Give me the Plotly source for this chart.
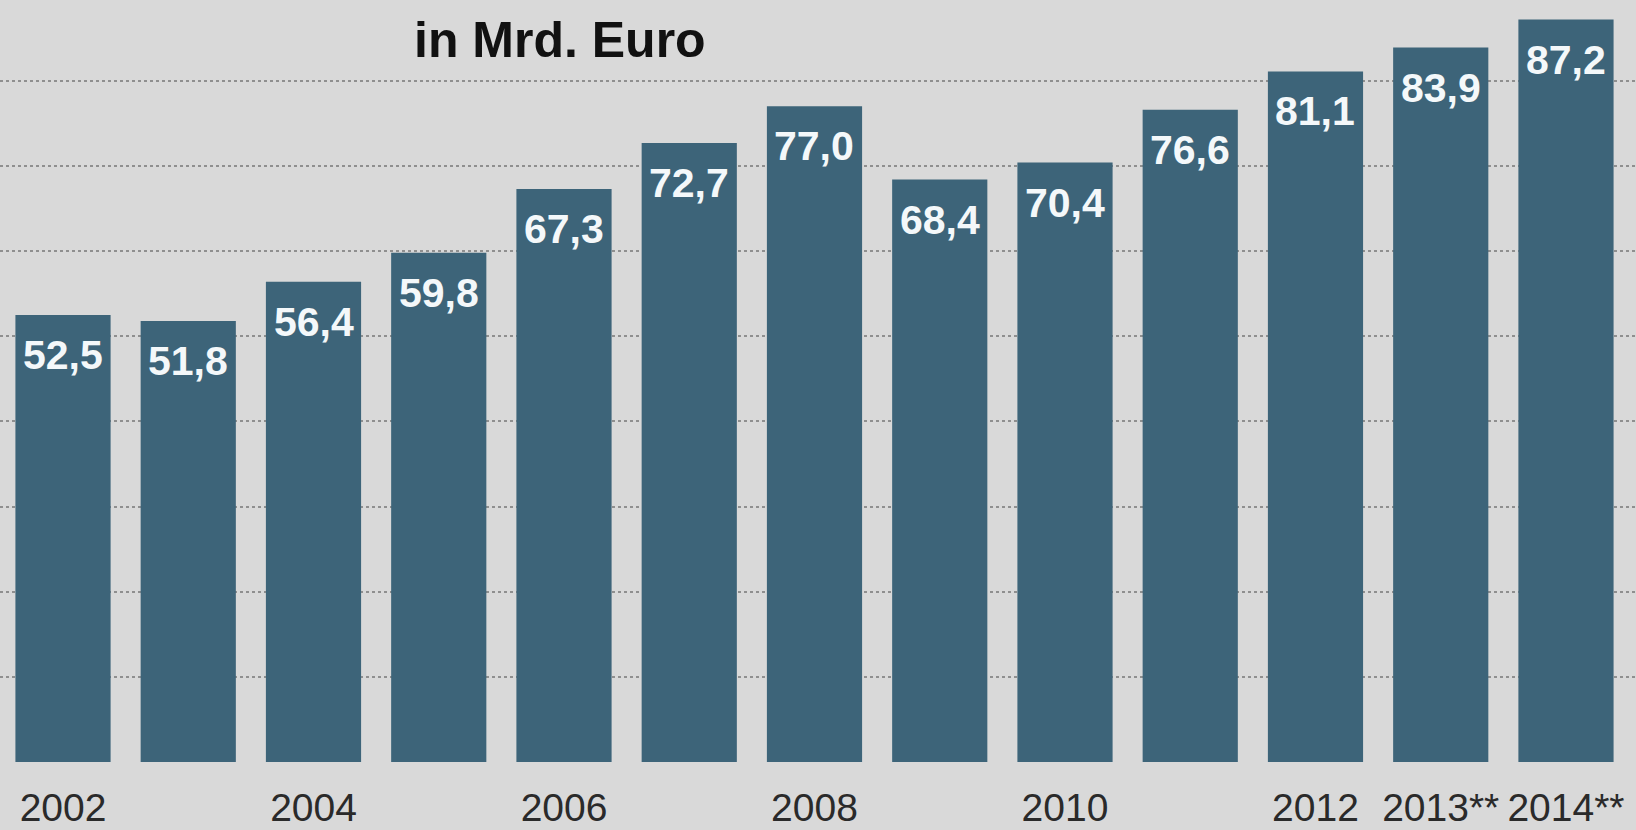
import plotly.graph_objects as go

years = ["2002", "2003", "2004", "2005", "2006", "2007", "2008",
         "2009", "2010", "2011", "2012", "2013**", "2014**"]
values = [52.5, 51.8, 56.4, 59.8, 67.3, 72.7, 77.0, 68.4, 70.4, 76.6, 81.1, 83.9, 87.2]
value_labels = ["52,5", "51,8", "56,4", "59,8", "67,3", "72,7", "77,0",
                "68,4", "70,4", "76,6", "81,1", "83,9", "87,2"]
tick_labels = ["2002", "", "2004", "", "2006", "", "2008",
               "", "2010", "", "2012", "2013**", "2014**"]
title_text = "in Mrd. Euro"

BG = "#d9d9d9"
BAR = "#3d6479"
FONT = "Liberation Sans, Arial, sans-serif"

fig = go.Figure()
fig.add_trace(go.Bar(
    x=years, y=values,
    marker=dict(color=BAR, line=dict(width=0)),
    hoverinfo="skip",
))

for i, (v, lab) in enumerate(zip(values, value_labels)):
    fig.add_annotation(
        x=i, y=v, text=lab, showarrow=False,
        xanchor="center", yanchor="middle", yshift=-40,
        font=dict(family=FONT, size=41, color="#f4f8fa", weight="bold"),
    )

fig.add_annotation(
    xref="paper", yref="paper", x=0.342, y=0.948,
    text=title_text, showarrow=False,
    xanchor="center", yanchor="middle",
    font=dict(family=FONT, size=50, color="#111111", weight="bold"),
)

fig.update_layout(
    width=1636, height=830,
    margin=dict(l=0, r=0, t=0, b=68, pad=0, autoexpand=False),
    paper_bgcolor=BG, plot_bgcolor=BG,
    bargap=0.24,
    showlegend=False,
    xaxis=dict(
        type="category",
        automargin=False,
        range=[-0.503, 12.559],
        tickvals=years, ticktext=tick_labels,
        tickangle=0,
        tickfont=dict(family=FONT, size=39, color="#2a2a2a"),
        ticks="outside", ticklen=11, tickcolor="rgba(0,0,0,0)",
        showgrid=False, zeroline=False, showline=False,
    ),
    yaxis=dict(
        automargin=False,
        range=[0, 89.49],
        dtick=10,
        showticklabels=False,
        showgrid=True, gridcolor="#8f8f8f", gridwidth=2, griddash="dot",
        zeroline=False, showline=False,
    ),
)

fig.write_html(
    "out.html",
    config={"displayModeBar": False},
    post_script="document.body.style.margin='0';document.body.style.overflow='hidden';",
)
